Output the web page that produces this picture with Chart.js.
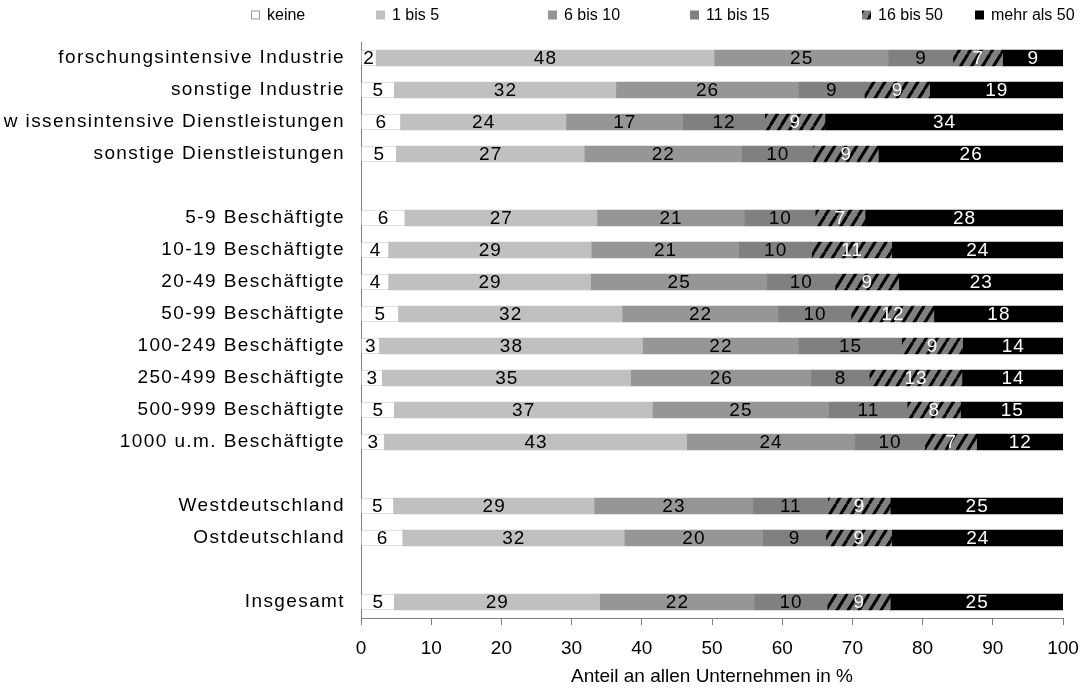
<!DOCTYPE html>
<html>
<head>
<meta charset="utf-8">
<script src="https://cdn.jsdelivr.net/npm/chart.js@4.4.1/dist/chart.umd.min.js"></script>
<style>
  html, body { margin: 0; padding: 0; background: #fff; }
  #wrap { width: 1086px; height: 691px; position: relative; }
</style>
</head>
<body>
<div id="wrap"><canvas id="barChart"></canvas></div>
<script>
// categories (empty strings are the gaps between groups)
const categories = [
  'forschungsintensive Industrie', 'sonstige Industrie', 'w issensintensive Dienstleistungen', 'sonstige Dienstleistungen',
  '',
  '5-9 Beschäftigte', '10-19 Beschäftigte', '20-49 Beschäftigte', '50-99 Beschäftigte',
  '100-249 Beschäftigte', '250-499 Beschäftigte', '500-999 Beschäftigte', '1000 u.m. Beschäftigte',
  '',
  'Westdeutschland', 'Ostdeutschland',
  '',
  'Insgesamt'
];
const seriesNames = ['keine', '1 bis 5', '6 bis 10', '11 bis 15', '16 bis 50', 'mehr als 50'];

// shares in % (labels are the rounded values)
const keine   = [2.1, 4.7, 5.6, 5.0, null, 6.2, 3.9, 3.9, 5.3, 2.6, 3.0, 4.7, 3.3, null, 4.6, 5.9, null, 4.7];
const bis5    = [48.2, 31.6, 23.6, 26.8, null, 27.4, 28.9, 28.8, 31.9, 37.5, 35.4, 36.8, 43.1, null, 28.6, 31.6, null, 29.3];
const bis10   = [24.8, 26.0, 16.6, 22.4, null, 21.0, 21.0, 25.1, 22.2, 22.2, 25.7, 25.1, 23.9, null, 22.6, 19.7, null, 22.0];
const bis15   = [9.2, 9.4, 11.7, 10.2, null, 10.1, 10.4, 9.7, 10.4, 14.7, 8.3, 11.2, 10.0, null, 10.7, 9.0, null, 10.4];
const bis50   = [7.1, 9.3, 8.6, 9.3, null, 7.1, 11.4, 9.1, 11.8, 8.7, 13.2, 7.6, 7.4, null, 8.9, 9.4, null, 9.0];
const ueber50 = [8.6, 19.0, 33.9, 26.3, null, 28.2, 24.4, 23.4, 18.4, 14.3, 14.4, 14.6, 12.3, null, 24.6, 24.4, null, 24.6];

const xTicks = [0, 10, 20, 30, 40, 50, 60, 70, 80, 90, 100];

const FONT = '"Liberation Sans", Arial, sans-serif';

Chart.defaults.font.family = FONT;
Chart.defaults.font.size = 19;
Chart.defaults.color = '#000';

const canvas = document.getElementById('barChart');
const ctx = canvas.getContext('2d');

// striped fill for "16 bis 50" (steep black stripes on grey)
function makeHatch() {
  const w = 11, h = 18;
  const c = document.createElement('canvas');
  c.width = w; c.height = h;
  const g = c.getContext('2d');
  g.fillStyle = '#808080';
  g.fillRect(0, 0, w, h);
  g.strokeStyle = '#000';
  g.lineWidth = 3;
  g.beginPath();
  for (const dx of [-w, 0, w]) {
    g.moveTo(dx, h);
    g.lineTo(dx + w, 0);
  }
  g.stroke();
  return ctx.createPattern(c, 'repeat');
}
const hatch = makeHatch();

const fills = ['#ffffff', '#c0c0c0', '#969696', '#808080', hatch, '#000000'];
const labelColors = ['#000', '#000', '#000', '#000', '#fff', '#fff'];
const values = [keine, bis5, bis10, bis15, bis50, ueber50];

// category labels are spaced out a bit in the original
const ySpacing = {
  id: 'ySpacing',
  beforeDraw(chart) {
    const y = chart.scales.y;
    if (y && !y._spaced) {
      const orig = y.drawLabels.bind(y);
      y.drawLabels = function (area) {
        this.ctx.letterSpacing = '1.4px';
        orig(area);
        this.ctx.letterSpacing = '0px';
      };
      y._spaced = true;
    }
  }
};

// numbers inside the segments
const segLabels = {
  id: 'segLabels',
  afterDatasetsDraw(chart) {
    const c = chart.ctx;
    c.save();
    c.letterSpacing = '1px';
    c.font = '19px ' + FONT;
    c.textAlign = 'center';
    c.textBaseline = 'middle';
    chart.data.datasets.forEach((ds, i) => {
      chart.getDatasetMeta(i).data.forEach((bar, j) => {
        const v = ds.data[j];
        if (v == null) return;
        c.fillStyle = labelColors[i];
        c.fillText(String(Math.round(v)), (bar.x + bar.base) / 2 + 0.5, bar.y + 1);
      });
    });
    c.letterSpacing = '0px';
    c.restore();
  }
};

// legend row on top, item positions as in the original
const legendX = [251, 376, 548, 690, 862, 975];
const topLegend = {
  id: 'topLegend',
  afterDraw(chart) {
    const c = chart.ctx;
    c.save();
    c.font = '16px ' + FONT;
    c.textBaseline = 'middle';
    const box = 9, y = 15;
    seriesNames.forEach((n, i) => {
      const x = legendX[i];
      c.fillStyle = fills[i];
      c.fillRect(x, y - box / 2, box, box);
      if (i === 0) {
        c.strokeStyle = '#999';
        c.lineWidth = 1;
        c.strokeRect(x + 0.5, y - box / 2 + 0.5, box - 1, box - 1);
      }
      c.fillStyle = '#000';
      c.fillText(n, x + box + 7, y + 1);
    });
    c.restore();
  }
};

const bChart = new Chart(canvas, {
  type: 'bar',
  data: {
    labels: categories,
    datasets: values.map((d, i) => ({
      label: seriesNames[i],
      data: d,
      backgroundColor: fills[i],
      borderColor: i === 0 ? '#d4d4d4' : 'rgba(0,0,0,0)',
      borderWidth: i === 0 ? { top: 1, bottom: 1, left: 0, right: 0 } : 0,
      borderSkipped: false,
      barThickness: 16
    }))
  },
  options: {
    indexAxis: 'y',
    responsive: true,
    maintainAspectRatio: false,
    animation: false,
    layout: { padding: { top: 42, right: 23, left: 0, bottom: 0 } },
    plugins: {
      legend: { display: false },
      tooltip: { enabled: false }
    },
    scales: {
      x: {
        stacked: true,
        min: 0,
        max: 100,
        afterBuildTicks(scale) { scale.ticks = xTicks.map(v => ({ value: v })); },
        afterFit(scale) {
          scale.height = 73;
          scale.paddingLeft = 0;
          scale.paddingRight = 0;
        },
        ticks: { color: '#000', font: { size: 19 }, padding: 12, maxRotation: 0 },
        grid: { drawOnChartArea: false, drawTicks: true, tickLength: 7, color: '#808080' },
        border: { color: '#808080', width: 1 },
        title: {
          display: true,
          text: 'Anteil an allen Unternehmen in %',
          color: '#000',
          font: { size: 19 },
          padding: { top: 0, bottom: 3 }
        }
      },
      y: {
        stacked: true,
        afterFit(scale) { scale.width = 361; },
        ticks: { color: '#000', font: { size: 19 }, padding: 16, autoSkip: false },
        grid: { display: false, drawTicks: false },
        border: { color: '#808080', width: 1 }
      }
    }
  },
  plugins: [ySpacing, segLabels, topLegend]
});
</script>
</body>
</html>
